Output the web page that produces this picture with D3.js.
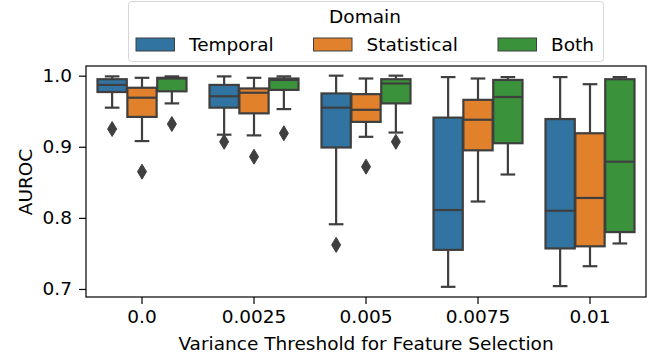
<!DOCTYPE html>
<html>
<head>
<meta charset="utf-8">
<script src="https://cdn.jsdelivr.net/npm/d3@7"></script>
<style>
  body { margin: 0; background: #fff; }
  text { font-family: "DejaVu Sans", sans-serif; fill: #000; }
</style>
</head>
<body>
<div id="chart"></div>
<script>
const thresholds = ["0.0", "0.0025", "0.005", "0.0075", "0.01"];
const domains = ["Temporal", "Statistical", "Both"];
const colors = ["#3274a1", "#e1812c", "#3a923a"];
const yTicks = [0.7, 0.8, 0.9, 1.0];

// [whisker low, q1, median, q3, whisker high] per threshold
const temporalStats = [
  [0.955, 0.977, 0.987, 0.995, 0.999],
  [0.917, 0.955, 0.971, 0.987, 0.999],
  [0.791, 0.899, 0.955, 0.975, 1.000],
  [0.703, 0.755, 0.811, 0.941, 0.998],
  [0.704, 0.757, 0.810, 0.939, 0.998]
];
const statisticalStats = [
  [0.908, 0.942, 0.969, 0.983, 0.997],
  [0.916, 0.947, 0.976, 0.982, 0.997],
  [0.914, 0.935, 0.952, 0.974, 0.996],
  [0.823, 0.895, 0.938, 0.966, 0.996],
  [0.732, 0.760, 0.828, 0.919, 0.988]
];
const bothStats = [
  [0.961, 0.978, 0.996, 0.997, 0.999],
  [0.953, 0.980, 0.994, 0.996, 0.999],
  [0.920, 0.961, 0.989, 0.995, 1.000],
  [0.861, 0.905, 0.970, 0.994, 0.998],
  [0.764, 0.780, 0.879, 0.995, 0.998]
];
const temporalOutliers = [[0.925], [0.907], [0.762], [], []];
const statisticalOutliers = [[0.865], [0.886], [0.872], [], []];
const bothOutliers = [[0.932], [0.919], [0.907], [], []];

const stats = [temporalStats, statisticalStats, bothStats];
const outliers = [temporalOutliers, statisticalOutliers, bothOutliers];

const W = 662, H = 358;
const LINE = "#3f3f3f";
const FS = 18.5;

const svg = d3.select("#chart").append("svg")
  .attr("width", W).attr("height", H);

const x = d3.scaleBand().domain(thresholds).range([86, 646]).padding(0);
const hue = d3.scaleBand().domain(domains)
  .range([-x.bandwidth() * 0.4, x.bandwidth() * 0.4]);
const y = d3.scaleLinear().domain([0.6887, 1.0136]).range([297, 66]);

// boxes
const boxW = hue.bandwidth() * 0.98;
const capW = boxW / 2;
stats.forEach((series, hi) => {
  const g = svg.append("g").attr("id", domains[hi]);
  series.forEach((s, ci) => {
    const cx = x(thresholds[ci]) + x.bandwidth() / 2 + hue(domains[hi]) + hue.bandwidth() / 2;
    const [lo, q1, med, q3, hiW] = s;
    const line = (x1, y1, x2, y2) => g.append("line")
      .attr("x1", x1).attr("y1", y1).attr("x2", x2).attr("y2", y2)
      .attr("stroke", LINE).attr("stroke-width", 2.2);
    line(cx, y(q3), cx, y(hiW));
    line(cx, y(q1), cx, y(lo));
    line(cx - capW / 2, y(hiW), cx + capW / 2, y(hiW));
    line(cx - capW / 2, y(lo), cx + capW / 2, y(lo));
    g.append("rect")
      .attr("x", cx - boxW / 2).attr("y", y(q3))
      .attr("width", boxW).attr("height", y(q1) - y(q3))
      .attr("fill", colors[hi]).attr("stroke", LINE).attr("stroke-width", 2.2);
    line(cx - boxW / 2, y(med), cx + boxW / 2, y(med));
    outliers[hi][ci].forEach(v => {
      const py = y(v);
      g.append("path")
        .attr("d", `M${cx},${py - 7.5}L${cx + 4.5},${py}L${cx},${py + 7.5}L${cx - 4.5},${py}Z`)
        .attr("fill", LINE).attr("stroke", LINE).attr("stroke-width", 1);
    });
  });
});

// axes
const xAxis = svg.append("g").attr("transform", "translate(0,297)")
  .call(d3.axisBottom(x).tickSizeOuter(0).tickSize(7).tickPadding(6));
const yAxis = svg.append("g").attr("transform", "translate(86,0)")
  .call(d3.axisLeft(y).tickValues(yTicks).tickFormat(d3.format(".1f"))
    .tickSizeOuter(0).tickSize(7).tickPadding(7));
[xAxis, yAxis].forEach(a => {
  a.select(".domain").remove();
  a.selectAll("line").attr("stroke", "#000").attr("stroke-width", 1.2);
  a.selectAll("text").attr("font-size", FS).attr("font-family", "DejaVu Sans").attr("fill", "#000");
});

// frame
svg.append("rect").attr("x", 86).attr("y", 66).attr("width", 560).attr("height", 231)
  .attr("fill", "none").attr("stroke", "#000").attr("stroke-width", 1.2);

svg.append("text").attr("x", 366).attr("y", 350).attr("text-anchor", "middle")
  .attr("font-size", FS).text("Variance Threshold for Feature Selection");
svg.append("text").attr("transform", "translate(31.5,182) rotate(-90)")
  .attr("text-anchor", "middle").attr("font-size", FS).text("AUROC");

// legend
const lg = svg.append("g").attr("id", "legend");
lg.append("rect").attr("x", 128.5).attr("y", 1.5).attr("width", 475).attr("height", 60)
  .attr("rx", 3).attr("fill", "#fff").attr("fill-opacity", 0.8)
  .attr("stroke", "#d6d6d6").attr("stroke-width", 1);
lg.append("text").attr("x", 365).attr("y", 23).attr("text-anchor", "middle")
  .attr("font-size", FS).text("Domain");
const patchX = [136, 313.5, 498];
domains.forEach((d, i) => {
  lg.append("rect").attr("x", patchX[i]).attr("y", 38).attr("width", 38.5).attr("height", 13)
    .attr("fill", colors[i]).attr("stroke", LINE).attr("stroke-width", 1);
  lg.append("text").attr("x", patchX[i] + 53).attr("y", 51)
    .attr("font-size", FS).text(d);
});
</script>
</body>
</html>
